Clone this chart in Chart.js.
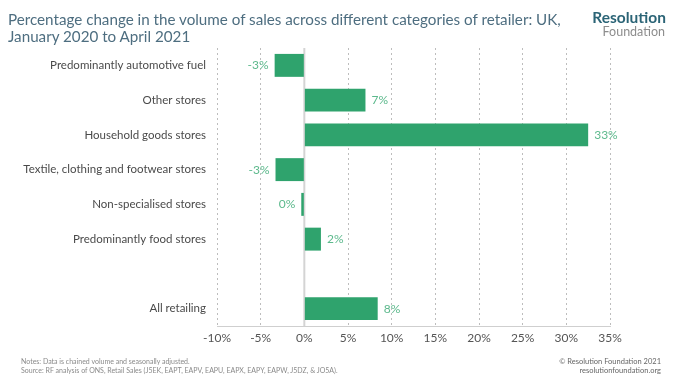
<!DOCTYPE html>
<html>
<head>
<meta charset="utf-8">
<script src="https://cdn.jsdelivr.net/npm/chart.js@4/dist/chart.umd.min.js"></script>
<style>
  html, body { margin:0; padding:0; background:#fff; }
  #wrap { position:relative; width:680px; height:383px; overflow:hidden; font-family: Lato, "Open Sans", sans-serif; }
  #c { position:absolute; left:0; top:0; }
  .title { position:absolute; left:8px; top:11px; font-size:15.2px; line-height:16.5px; color:#4e6e80; }
  .logo1 { position:absolute; right:14px; top:8px; font-size:15.5px; font-weight:bold; color:#2b6476; }
  .logo2 { position:absolute; right:15px; top:24px; font-size:12.5px; color:#8d8d8d; }
  .notes { position:absolute; left:21px; top:357px; font-size:7px; line-height:8.5px; color:#8a8a8a; }
  .copy { position:absolute; right:19px; top:357px; font-size:7.5px; line-height:9px; color:#666; text-align:right; }
</style>
</head>
<body>
<div id="wrap">
  <canvas id="c" width="680" height="383"></canvas>
  <div class="title">Percentage change in the volume of sales across different categories of retailer: UK,<br>January 2020 to April 2021</div>
  <div class="logo1">Resolution</div>
  <div class="logo2">Foundation</div>
  <div class="notes">Notes: Data is chained volume and seasonally adjusted.<br>Source: RF analysis of ONS, Retail Sales (J5EK, EAPT, EAPV, EAPU, EAPX, EAPY, EAPW, J5DZ, &amp; JO5A).</div>
  <div class="copy">© Resolution Foundation 2021<br>resolutionfoundation.org</div>
</div>
<script>
const categories = [
  "Predominantly automotive fuel",
  "Other stores",
  "Household goods stores",
  "Textile, clothing and footwear stores",
  "Non-specialised stores",
  "Predominantly food stores",
  "",
  "All retailing"
];
const salesChange = [-3.4, 7.0, 32.5, -3.3, -0.35, 1.9, null, 8.4];
const xTicks = [-10, -5, 0, 5, 10, 15, 20, 25, 30, 35];

const barColor = '#2fa36d';
const labelColor = '#5cb98c';

const valueLabels = {
  id: 'valueLabels',
  afterDatasetsDraw(chart) {
    const ctx = chart.ctx;
    const meta = chart.getDatasetMeta(0);
    ctx.save();
    ctx.font = '12px Lato, "Open Sans", sans-serif';
    ctx.fillStyle = labelColor;
    ctx.textBaseline = 'middle';
    meta.data.forEach((bar, i) => {
      const v = salesChange[i];
      if (v === null || v === undefined) return;
      const txt = String(Math.round(v)) + '%';
      if (v >= 0) { ctx.textAlign = 'left'; ctx.fillText(txt, bar.x + 6, bar.y); }
      else { ctx.textAlign = 'right'; ctx.fillText(txt, bar.x - 6, bar.y); }
    });
    ctx.restore();
  }
};

const zeroLine = {
  id: 'zeroLine',
  beforeDatasetsDraw(chart) {
    const x = chart.scales.x.getPixelForValue(0);
    const ca = chart.chartArea;
    const ctx = chart.ctx;
    ctx.save();
    ctx.strokeStyle = '#d4d4d4';
    ctx.lineWidth = 2;
    ctx.beginPath();
    ctx.moveTo(x, ca.top);
    ctx.lineTo(x, ca.bottom);
    ctx.stroke();
    ctx.restore();
  }
};

new Chart(document.getElementById('c'), {
  type: 'bar',
  data: {
    labels: categories,
    datasets: [{
      data: salesChange,
      backgroundColor: barColor,
      borderWidth: 0,
      categoryPercentage: 1,
      barPercentage: 0.66
    }]
  },
  options: {
    indexAxis: 'y',
    responsive: false,
    animation: false,
    devicePixelRatio: 1,
    layout: { padding: { left: 0, right: 70, top: 48, bottom: 37 } },
    plugins: { legend: { display: false }, tooltip: { enabled: false } },
    scales: {
      x: {
        min: -10, max: 35,
        afterBuildTicks(scale) { scale.ticks = xTicks.map(v => ({ value: v })); },
        afterFit(scale) { scale.height = 20; },
        ticks: {
          padding: 5,
          color: '#555',
          font: { family: 'Lato, "Open Sans", sans-serif', size: 12 },
          callback: v => v + '%'
        },
        grid: {
          drawTicks: false,
          color: ctx => (ctx.tick && ctx.tick.value === 0) ? 'rgba(0,0,0,0)' : '#bdbdbd',
          lineWidth: 1
        },
        border: { display: true, color: '#cfcfcf', width: 1, dash: [2, 3] }
      },
      y: {
        afterFit(scale) { scale.width = 217; },
        grid: { display: false, drawTicks: false },
        border: { display: false },
        ticks: {
          padding: 11,
          color: '#4a4a4a',
          font: { family: 'Lato, "Open Sans", sans-serif', size: 11.5 }
        }
      }
    }
  },
  plugins: [zeroLine, valueLabels]
});
</script>
</body>
</html>
